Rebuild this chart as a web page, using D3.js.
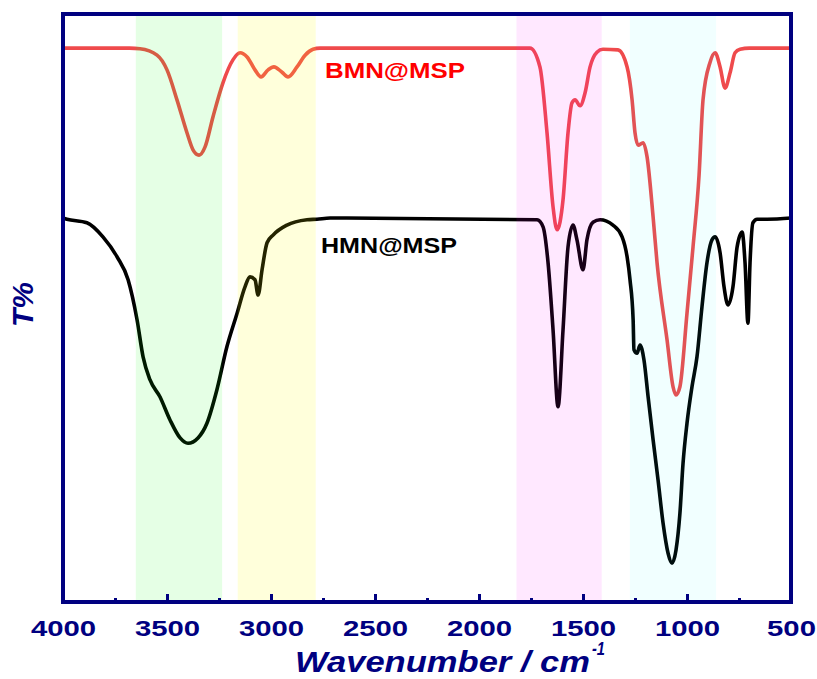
<!DOCTYPE html>
<html>
<head>
<meta charset="utf-8">
<script src="https://cdn.jsdelivr.net/npm/d3@7"></script>
<style>
  html, body { margin: 0; padding: 0; background: #fff; }
  svg { display: block; }
  text { font-family: Arial, "Liberation Sans", Helvetica, sans-serif; }
</style>
</head>
<body>
<svg id="chart" width="817" height="679"></svg>
<script>
// ---- data ----
const xTicks = [4000, 3500, 3000, 2500, 2000, 1500, 1000, 500];
const xMinorTicks = [3750, 3250, 2750, 2250, 1750, 1250, 750];
const seriesNames = ["BMN@MSP", "HMN@MSP"];

// shaded regions [from, to] in cm-1
const bandRanges = [[3650, 3235], [3160, 2785], [1820, 1410], [1275, 860]];
const bandColors = ["#00ff00", "#ffff00", "#ff00ff", "#00ffff"];
const bandOpacity = [0.1, 0.14, 0.09, 0.055];

// BMN@MSP spectrum: [wavenumber, T]
const bmnSpectrum = [
  [4000, 94.2], [3680, 94.2], [3630, 94.1], [3548, 93.0], [3500, 90.5], [3452, 85.4],
  [3404, 79.8], [3375, 76.9], [3346, 76.0], [3317, 77.4], [3279, 82.5], [3231, 88.3],
  [3183, 92.2], [3149, 93.4], [3115, 92.7], [3077, 90.5], [3048, 89.3], [3014, 90.5],
  [2986, 91.0], [2947, 90.1], [2918, 89.3], [2875, 91.0], [2836, 93.0], [2798, 94.0],
  [2764, 94.2], [1755, 94.2], [1707, 91.0], [1673, 79.8], [1644, 67.2], [1625, 63.3],
  [1596, 68.4], [1572, 79.8], [1553, 84.9], [1538, 85.4], [1514, 84.4], [1490, 86.6],
  [1466, 91.0], [1433, 93.5], [1404, 94.0], [1332, 93.9], [1288, 91.0], [1264, 85.4],
  [1250, 79.8], [1235, 77.7], [1211, 78.1], [1192, 75.7], [1163, 65.5], [1144, 57.7],
  [1096, 44.6], [1067, 36.6], [1053, 35.2], [1034, 36.6], [1000, 49.1], [971, 60.4],
  [942, 72.6], [923, 85.4], [889, 91.8], [865, 93.4], [841, 91.0], [817, 87.4],
  [793, 90.0], [769, 93.4], [745, 94.0], [700, 94.2], [500, 94.2]
];

// HMN@MSP spectrum: [wavenumber, T]
const hmnSpectrum = [
  [4000, 65.3], [3981, 65.1], [3885, 64.5], [3808, 62.1], [3740, 58.7], [3687, 54.8],
  [3644, 48.0], [3615, 41.7], [3582, 37.8], [3534, 34.9], [3486, 31.0], [3437, 27.9],
  [3399, 27.0], [3351, 27.9], [3308, 30.4], [3260, 36.1], [3212, 43.4], [3163, 49.1],
  [3125, 53.6], [3101, 55.3], [3077, 54.8], [3062, 52.2], [3043, 56.5], [3019, 61.1],
  [2990, 62.4], [2923, 64.1], [2827, 65.0], [2779, 65.1], [2716, 65.3], [1721, 65.0],
  [1692, 63.8], [1668, 57.7], [1644, 46.3], [1620, 33.2], [1596, 46.3], [1572, 60.4],
  [1548, 64.1], [1529, 61.6], [1500, 56.5], [1481, 61.6], [1452, 64.6], [1418, 65.0],
  [1356, 64.1], [1312, 62.1], [1288, 58.7], [1274, 54.8], [1259, 48.0], [1255, 42.9],
  [1240, 42.3], [1226, 43.7], [1207, 41.2], [1187, 34.9], [1163, 27.6], [1139, 20.7],
  [1115, 13.4], [1091, 8.3], [1072, 6.6], [1053, 8.8], [1034, 15.1], [1019, 23.6],
  [1000, 30.4], [976, 36.6], [952, 41.7], [928, 50.2], [904, 57.7], [880, 61.6],
  [865, 62.1], [841, 59.4], [822, 53.6], [803, 50.5], [779, 53.6], [759, 60.4],
  [735, 62.9], [721, 57.7], [707, 47.4], [697, 57.7], [683, 64.5], [663, 65.1],
  [615, 65.1], [500, 65.3]
];

const seriesData = [bmnSpectrum, hmnSpectrum];
const seriesColors = ["#ef4a4c", "#000000"];
const labelColors = ["#ff0000", "#000000"];

// ---- layout ----
const svg = d3.select("#chart");
const L = 63, R = 791, T = 14, B = 602;
const navy = "#000080";

const x = d3.scaleLinear().domain([4000, 500]).range([L, R]);
const y = d3.scaleLinear().domain([0, 100]).range([B, T]);

// lines
const line = d3.line()
  .x(d => x(d[0]))
  .y(d => y(d[1]))
  .curve(d3.curveMonotoneX);

svg.append("g").selectAll("path")
  .data(seriesData)
  .join("path")
  .attr("d", d => line(d))
  .attr("fill", "none")
  .attr("stroke", (d, i) => seriesColors[i])
  .attr("stroke-width", 3.6)
  .attr("stroke-linejoin", "round")
  .attr("stroke-linecap", "round");

// translucent bands on top
svg.append("g").selectAll("rect")
  .data(bandRanges)
  .join("rect")
  .attr("x", d => x(d[0]))
  .attr("width", d => x(d[1]) - x(d[0]))
  .attr("y", T + 2)
  .attr("height", B - T - 4)
  .attr("fill", (d, i) => bandColors[i])
  .attr("fill-opacity", (d, i) => bandOpacity[i]);

// series labels
const labelPos = [[325, 78, 140], [321, 253, 136]];
svg.append("g").selectAll("text")
  .data(seriesNames)
  .join("text")
  .attr("x", (d, i) => labelPos[i][0])
  .attr("y", (d, i) => labelPos[i][1])
  .attr("textLength", (d, i) => labelPos[i][2])
  .attr("lengthAdjust", "spacingAndGlyphs")
  .attr("font-size", 22)
  .attr("font-weight", "bold")
  .attr("fill", (d, i) => labelColors[i])
  .text(d => d);

// bottom axis major ticks (inward)
const axisMajor = d3.axisBottom(x)
  .tickValues(xTicks)
  .tickSize(-8)
  .tickPadding(18)
  .tickFormat(d3.format("d"));
const gx = svg.append("g").attr("transform", `translate(0,${B})`).call(axisMajor);
gx.select(".domain").remove();
gx.selectAll(".tick line").attr("stroke", navy).attr("stroke-width", 3);
gx.selectAll(".tick text")
  .attr("fill", navy)
  .attr("font-size", 22)
  .attr("font-weight", "bold")
  .attr("textLength", d => String(d).length * 16.3)
  .attr("lengthAdjust", "spacingAndGlyphs")
  .attr("font-family", "Arial, 'Liberation Sans', sans-serif");

// minor ticks
const axisMinor = d3.axisBottom(x)
  .tickValues(xMinorTicks)
  .tickSize(-4)
  .tickFormat("");
const gm = svg.append("g").attr("transform", `translate(0,${B})`).call(axisMinor);
gm.select(".domain").remove();
gm.selectAll(".tick line").attr("stroke", navy).attr("stroke-width", 3);

// frame
svg.append("rect")
  .attr("x", L).attr("y", T)
  .attr("width", R - L).attr("height", B - T)
  .attr("fill", "none")
  .attr("stroke", navy)
  .attr("stroke-width", 4);

// axis titles
svg.append("text")
  .attr("x", 295).attr("y", 672)
  .attr("textLength", 295)
  .attr("lengthAdjust", "spacingAndGlyphs")
  .attr("font-size", 30)
  .attr("font-weight", "bold")
  .attr("font-style", "italic")
  .attr("fill", navy)
  .text("Wavenumber / cm");
svg.append("text")
  .attr("x", 592).attr("y", 655)
  .attr("textLength", 13)
  .attr("lengthAdjust", "spacingAndGlyphs")
  .attr("font-size", 18)
  .attr("font-weight", "bold")
  .attr("font-style", "italic")
  .attr("fill", navy)
  .text("-1");

svg.append("text")
  .attr("transform", "translate(33,327) rotate(-90)")
  .attr("x", 0).attr("y", 0)
  .attr("textLength", 45)
  .attr("lengthAdjust", "spacingAndGlyphs")
  .attr("font-size", 29)
  .attr("font-weight", "bold")
  .attr("font-style", "italic")
  .attr("fill", navy)
  .text("T%");
</script>
</body>
</html>
